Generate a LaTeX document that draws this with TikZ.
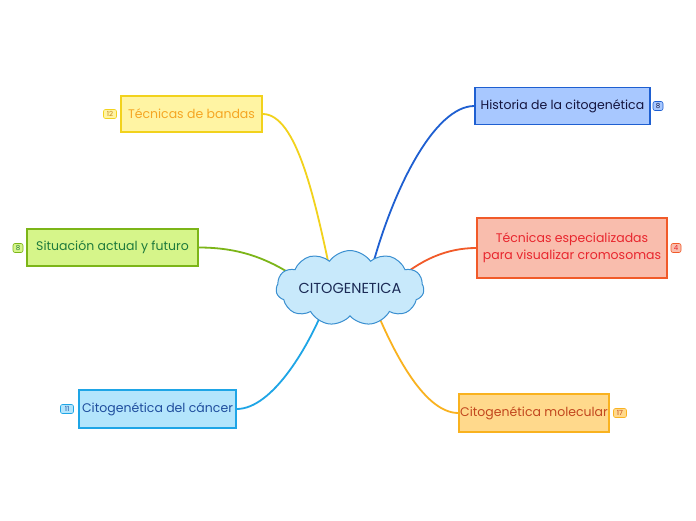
\documentclass[tikz,border=0pt]{standalone}
\usepackage{fontspec}
\setmainfont{Poppins}
\usetikzlibrary{shapes.symbols,backgrounds}
\definecolor{yfill}{HTML}{FFF4A3}\definecolor{ydraw}{HTML}{F2D21C}\definecolor{ytext}{HTML}{F5A623}
\definecolor{bfill}{HTML}{A8C8FF}\definecolor{bdraw}{HTML}{1E5FD1}\definecolor{btext}{HTML}{15153F}
\definecolor{rfill}{HTML}{F9BDAD}\definecolor{rdraw}{HTML}{F15A29}\definecolor{rtext}{HTML}{E8262E}
\definecolor{gfill}{HTML}{D6F58A}\definecolor{gdraw}{HTML}{7CB518}\definecolor{gtext}{HTML}{1E7A3C}
\definecolor{cfill}{HTML}{B3E5FC}\definecolor{cdraw}{HTML}{1EA5E6}\definecolor{ctext}{HTML}{1F4E9E}
\definecolor{ofill}{HTML}{FFD98C}\definecolor{odraw}{HTML}{F9B21F}\definecolor{otext}{HTML}{C2471E}
\definecolor{clfill}{HTML}{C8E9FB}\definecolor{cldraw}{HTML}{3A8FD0}\definecolor{cltext}{HTML}{1B2A55}
\begin{document}
\begin{tikzpicture}[x=1pt,y=-1pt,
  topic/.style={draw,line width=1.3pt,inner sep=0pt,align=center,font=\fontsize{12.5}{17}\selectfont},
  badge/.style={draw,line width=0.6pt,rounded corners=2pt,inner sep=0pt,minimum width=13pt,minimum height=9pt,font=\fontsize{7}{7}\selectfont},
  link/.style={line width=1.8pt}]
\useasboundingbox (0,0) rectangle (696,520);
\node[cloud,cloud puffs=11,cloud puff arc=110,aspect=2.6,draw=cldraw,fill=clfill,line width=1pt,
  minimum width=148pt,minimum height=50pt,inner sep=0pt,text=cltext,font=\fontsize{14.5}{17}\selectfont] (cl) at (350,288) {CITOGENETICA};
\node[topic,fill=yfill,draw=ydraw,text=ytext,minimum width=141pt,minimum height=36pt] (t1) at (191.5,114) {Técnicas de bandas};
\node[badge,fill=yfill,draw=ydraw,text=ytext!80!black] (b1) at (110,114) {12};
\node[topic,fill=bfill,draw=bdraw,text=btext,minimum width=175pt,minimum height=37pt] (t2) at (562.5,106) {Historia de la citogenética};
\node[badge,fill=bfill,draw=bdraw,text=btext,minimum width=10pt] (b2) at (658,106) {8};
\node[topic,fill=rfill,draw=rdraw,text=rtext,minimum width=190pt,minimum height=60pt] (t3) at (572,248) {Técnicas especializadas\\para visualizar cromosomas};
\node[badge,fill=rfill,draw=rdraw,text=rtext,minimum width=10pt] (b3) at (676,248) {4};
\node[topic,fill=gfill,draw=gdraw,text=gtext,minimum width=171pt,minimum height=37pt] (t4) at (112.5,247.5) {Situación actual y futuro};
\node[badge,fill=gfill,draw=gdraw,text=gtext,minimum width=10pt] (b4) at (18,248) {8};
\node[topic,fill=cfill,draw=cdraw,text=ctext,minimum width=157pt,minimum height=38pt] (t5) at (157.5,409) {Citogenética del cáncer};
\node[badge,fill=cfill,draw=cdraw,text=ctext] (b5) at (67,409) {11};
\node[topic,fill=ofill,draw=odraw,text=otext,minimum width=150pt,minimum height=38pt] (t6) at (534,413) {Citogenética molecular};
\node[badge,fill=ofill,draw=odraw,text=otext] (b6) at (620,413) {17};
\coordinate (e1) at (331,275);
\coordinate (e2) at (370,275);
\coordinate (e3) at (395,282);
\coordinate (e4) at (300,280);
\coordinate (e5) at (327,300);
\coordinate (e6) at (372,300);
\begin{scope}[on background layer]
\fill[white] (0,0) rectangle (696,520);
\draw[link,draw=ydraw] (t1.east) .. controls +(34,0) and (315,200) .. (e1);
\draw[link,draw=bdraw] (t2.west) .. controls +(-40,0) and (392,190) .. (e2);
\draw[link,draw=rdraw] (t3.west) .. controls +(-30,0) and (420,260) .. (e3);
\draw[link,draw=gdraw] (t4.east) .. controls +(40,0) and (268,258) .. (e4);
\draw[link,draw=cdraw] (t5.east) .. controls +(36,0) and (310,345) .. (e5);
\draw[link,draw=odraw] (t6.west) .. controls +(-36,0) and (390,345) .. (e6);
\end{scope}
\end{tikzpicture}
\end{document}
